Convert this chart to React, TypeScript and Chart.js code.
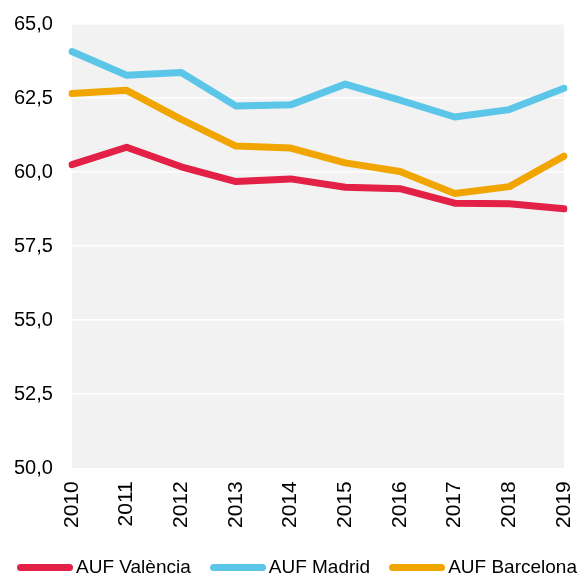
import React, { useEffect, useRef } from "react";
import { Chart, registerables } from "chart.js";

Chart.register(...registerables);

const years = ["2010", "2011", "2012", "2013", "2014", "2015", "2016", "2017", "2018", "2019"];
const valencia = [60.25, 60.84, 60.18, 59.68, 59.77, 59.49, 59.44, 58.95, 58.93, 58.76];
const madrid = [64.07, 63.27, 63.36, 62.23, 62.27, 62.97, 62.43, 61.86, 62.11, 62.83];
const barcelona = [62.65, 62.76, 61.78, 60.88, 60.81, 60.31, 60.02, 59.28, 59.51, 60.54];

const seriesNames = ["AUF València", "AUF Madrid", "AUF Barcelona"];
const seriesColors = ["#E32146", "#5CC6E8", "#F0A500"];

const FONT = "'Liberation Sans', Arial, sans-serif";

const bgPlugin = {
  id: "plotBg",
  beforeDraw(chart: any) {
    const { ctx, chartArea } = chart;
    if (!chartArea) return;
    ctx.save();
    ctx.fillStyle = "#f2f2f2";
    ctx.fillRect(chartArea.left, chartArea.top, chartArea.right - chartArea.left, chartArea.bottom - chartArea.top);
    ctx.restore();
  },
};

export default function App() {
  const ref = useRef<HTMLCanvasElement | null>(null);
  useEffect(() => {
    if (!ref.current) return;
    const chart = new Chart(ref.current, {
      type: "line",
      data: {
        labels: years,
        datasets: [valencia, madrid, barcelona].map((d, i) => ({
          label: seriesNames[i],
          data: d,
          borderColor: seriesColors[i],
          backgroundColor: seriesColors[i],
          borderWidth: 7,
          pointRadius: 0,
          tension: 0,
          borderJoinStyle: "round" as const,
          borderCapStyle: "round" as const,
        })),
      },
      options: {
        animation: false,
        responsive: false,
        maintainAspectRatio: false,
        layout: { padding: { left: -5, right: 15, top: 24, bottom: 38 } },
        scales: {
          x: {
            offset: false,
            grid: { display: false, drawTicks: false },
            border: { display: false },
            afterFit: (s: any) => {
              s.paddingLeft = 0;
              s.paddingRight = 0;
            },
            ticks: {
              minRotation: 90,
              maxRotation: 90,
              autoSkip: false,
              padding: 13,
              color: "#000",
              font: { family: FONT, size: 21 },
            },
          },
          y: {
            min: 50,
            max: 65,
            grid: { color: "#ffffff", lineWidth: 1.5, drawTicks: false },
            border: { display: false },
            afterFit: (s: any) => {
              s.paddingTop = 0;
              s.paddingBottom = 0;
            },
            ticks: {
              stepSize: 2.5,
              padding: 19,
              color: "#000",
              font: { family: FONT, size: 20 },
              callback: (v: any) => Number(v).toFixed(1).replace(".", ","),
            },
          },
        },
        plugins: {
          tooltip: { enabled: false },
          legend: { display: false },
        },
      },
      plugins: [bgPlugin],
    });
    return () => chart.destroy();
  }, []);
  return (
    <div style={{ position: "fixed", left: 0, top: 0, width: 579, height: 579, background: "#fff", fontFamily: FONT }}>
      <canvas ref={ref} width={579} height={579} style={{ width: 579, height: 579, display: "block" }} />
      <div
        style={{
          position: "absolute",
          left: 17,
          top: 556,
          height: 22,
          display: "flex",
          alignItems: "center",
          gap: 19,
          fontSize: 19,
          color: "#000",
          whiteSpace: "nowrap",
        }}
      >
        {seriesNames.map((n, i) => (
          <div key={n} style={{ display: "flex", alignItems: "center", gap: 3 }}>
            <span style={{ display: "inline-block", width: 56, height: 7, borderRadius: 3.5, background: seriesColors[i] }} />
            <span>{n}</span>
          </div>
        ))}
      </div>
    </div>
  );
}
